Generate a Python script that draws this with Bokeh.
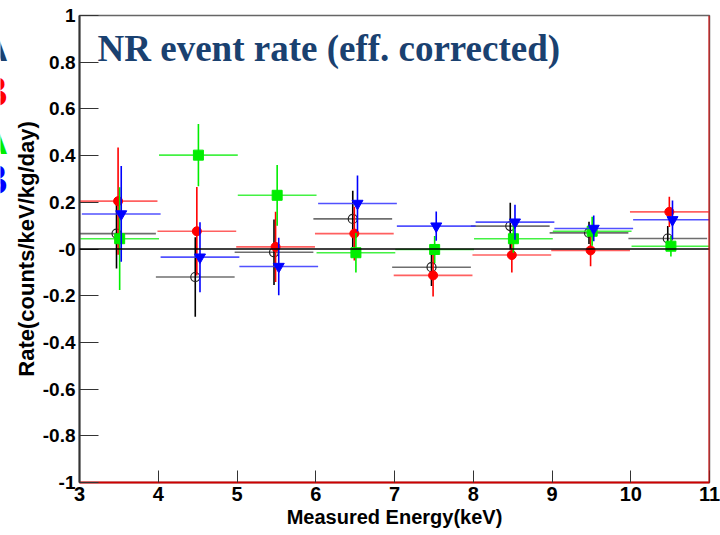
from bokeh.plotting import figure
from bokeh.layouts import row
from bokeh.models import FixedTicker, Span, Label, Range1d
from bokeh.embed import file_html
from bokeh.resources import INLINE

# ---- data ----
bin_centers = [3.5, 4.5, 5.5, 6.5, 7.5, 8.5, 9.5, 10.5]
bin_half = 0.5

black_y = [0.066, -0.120, -0.014, 0.129, -0.078, 0.098, 0.069, 0.045]
black_err = [0.150, 0.170, 0.140, 0.120, 0.080, 0.100, 0.048, 0.054]
red_y = [0.205, 0.076, 0.009, 0.066, -0.113, -0.026, -0.006, 0.159]
red_err = [0.230, 0.190, 0.150, 0.115, 0.090, 0.075, 0.068, 0.065]
green_y = [0.044, 0.402, 0.230, -0.016, -0.002, 0.044, 0.076, 0.012]
green_err = [0.220, 0.133, 0.130, 0.085, 0.058, 0.060, 0.062, 0.044]
blue_y = [0.150, -0.035, -0.075, 0.195, 0.098, 0.115, 0.088, 0.125]
blue_err = [0.205, 0.150, 0.123, 0.120, 0.063, 0.075, 0.055, 0.083]

x_ticks = [3, 4, 5, 6, 7, 8, 9, 10, 11]
y_ticks = [-1, -0.8, -0.6, -0.4, -0.2, 0, 0.2, 0.4, 0.6, 0.8, 1]
y_tick_labels = ["-1", "-0.8", "-0.6", "-0.4", "-0.2", "-0", "0.2", "0.4", "0.6", "0.8", "1"]

title_text = "NR event rate (eff. corrected)"
side_letters = ["A", "B", "A", "B"]
side_letter_y = [0.867, 0.675, 0.469, 0.298]
side_letter_colors = ["#1a4170", "#ff0000", "#00ee00", "#0000ff"]

FONT = "Liberation Sans"

p = figure(width=712, height=535, output_backend="svg", toolbar_location=None,
           x_range=Range1d(3, 11), y_range=Range1d(-1, 1),
           min_border_left=71, min_border_right=11, min_border_top=15, min_border_bottom=53)
p.xgrid.visible = False
p.ygrid.visible = False
p.outline_line_color = "#666666"
p.outline_line_width = 1.5
p.background_fill_color = "white"
p.border_fill_color = "white"

for ax in (p.xaxis[0], p.yaxis[0]):
    ax.major_tick_out = 0
    ax.minor_tick_in = 0
    ax.minor_tick_out = 0
    ax.major_tick_line_color = "#333333"
    ax.major_label_text_font = FONT
    ax.major_label_text_font_style = "bold"
    ax.major_label_text_color = "black"
    ax.axis_label_text_font = FONT
    ax.axis_label_text_font_style = "bold"
    ax.axis_label_text_color = "black"

p.xaxis.ticker = FixedTicker(ticks=x_ticks)
p.xaxis.major_tick_in = 12
p.xaxis.major_label_text_font_size = "20px"
p.xaxis.axis_label = "Measured Energy(keV)"
p.xaxis.axis_label_text_font_size = "20px"
p.xaxis.axis_line_color = "#cc0000"
p.xaxis.axis_line_width = 2
p.xaxis.major_label_standoff = 4
p.xaxis.axis_label_standoff = 2

p.yaxis.ticker = FixedTicker(ticks=y_ticks)
p.yaxis.major_tick_in = 19
p.yaxis.major_label_text_font_size = "19px"
p.yaxis.major_label_overrides = {t: l for t, l in zip(y_ticks, y_tick_labels)}
p.yaxis.axis_label = "Rate(counts/keV/kg/day)"
p.yaxis.axis_label_text_font_size = "22px"
p.yaxis.axis_line_color = "#333333"
p.yaxis.axis_line_width = 2
p.yaxis.major_label_standoff = 4
p.yaxis.axis_label_standoff = 1

# zero line and red right edge
p.add_layout(Span(location=0, dimension="width", line_color="black", line_width=1.5))
p.add_layout(Span(location=11, dimension="height", line_color="#dd0000", line_width=2))

series = [
    (black_y, black_err, -0.03, "black", "#555555", "circle", False, 9),
    (red_y, red_err, -0.01, "#ff0000", "#ff4444", "circle", True, 9),
    (green_y, green_err, 0.01, "#00ee00", "#22ee22", "square", True, 10),
    (blue_y, blue_err, 0.03, "#0000ff", "#3333ff", "inverted_triangle", True, 11),
]

for ys, errs, off, col, hcol, marker, filled, size in series:
    xs = [c + off for c in bin_centers]
    p.segment(x0=[x - bin_half for x in xs], y0=ys, x1=[x + bin_half for x in xs], y1=ys,
              line_color=hcol, line_width=1.6, line_alpha=0.85)
    p.segment(x0=xs, y0=[y - e for y, e in zip(ys, errs)], x1=xs, y1=[y + e for y, e in zip(ys, errs)],
              line_color=col, line_width=1.6)
    if filled:
        p.scatter(xs, ys, marker=marker, size=size, fill_color=col, line_color=col)
    else:
        p.scatter(xs, ys, marker=marker, size=size, fill_color=None, line_color="#222222",
                  line_width=1.2)

p.add_layout(Label(x=3.229, y=0.859, text=title_text, text_font="Liberation Serif",
                   text_font_style="bold", text_font_size="37px", text_color="#1a4170",
                   text_baseline="alphabetic"))

# narrow strip on the left holding the cut-off side letters
side = figure(width=8, height=535, output_backend="svg", toolbar_location=None,
              x_range=Range1d(0, 8), y_range=p.y_range,
              x_axis_location=None, y_axis_location=None,
              min_border_left=0, min_border_right=0, min_border_top=15, min_border_bottom=53)
side.xgrid.visible = False
side.ygrid.visible = False
side.outline_line_color = None
side.border_fill_color = "white"
for letter, ly, lc in zip(side_letters, side_letter_y, side_letter_colors):
    side.add_layout(Label(x=7.5, y=ly, text=letter, text_font=FONT, text_font_style="bold",
                          text_font_size="42px", text_color=lc, text_align="right",
                          text_baseline="alphabetic"))

layout = row(side, p, spacing=0)
open("out.html", "w").write(file_html(layout, INLINE))
